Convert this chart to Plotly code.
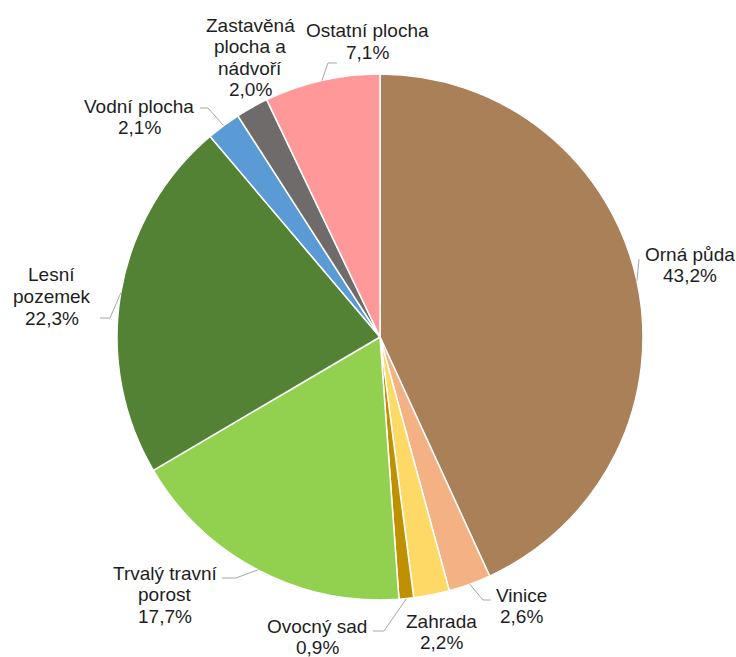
import math
import plotly.graph_objects as go

# ---- data ----
categories = ["Orná půda", "Vinice", "Zahrada", "Ovocný sad", "Trvalý travní porost",
              "Lesní pozemek", "Vodní plocha", "Zastavěná plocha a nádvoří", "Ostatní plocha"]
values = [43.2, 2.6, 2.2, 0.9, 17.7, 22.3, 2.1, 2.0, 7.1]
label_lines = [["Orná půda"], ["Vinice"], ["Zahrada"], ["Ovocný sad"], ["Trvalý travní", "porost"],
               ["Lesní", "pozemek"], ["Vodní plocha"], ["Zastavěná", "plocha a", "nádvoří"], ["Ostatní plocha"]]

# ---- styling / layout ----
colors = ["#A98058", "#F4B183", "#FFD966", "#BF9000", "#92D050",
          "#548235", "#5B9BD5", "#706B6B", "#FF9999"]
W, H = 736, 657
CX, CY, R = 380, 337, 263
LINE_H = 21.5
# label block placement: (center x, first-line center y) in pixels
label_place = [(690, 254), (521, 595), (442, 621), (317, 626), (165, 573),
               (52, 275), (139, 106), (250, 25), (367, 31)]
# leader line extra points (after point on slice edge), in pixels
leader_pts = [[(639, 259)], [(483, 600), (491, 600)], [], [(384, 631), (373, 631)],
              [(236, 578), (222, 578)], [(110, 318), (100, 318)], [(208, 108), (200, 108)],
              [], [(328, 63), (337, 63)]]


def px(x):
    return x / W


def py(y):
    return 1 - y / H


fig = go.Figure(go.Pie(
    labels=categories, values=values, sort=False, direction="clockwise", rotation=0,
    marker=dict(colors=colors, line=dict(color="white", width=1.5)),
    textinfo="none", hoverinfo="label+percent", showlegend=False,
    domain=dict(x=[px(CX - R), px(CX + R)], y=[py(CY + R), py(CY - R)]),
))

annotations = []
shapes = []
total = sum(values)
cum = 0.0
for i, v in enumerate(values):
    mid = (cum + v / 2) / total * 2 * math.pi
    cum += v
    ex = CX + R * math.sin(mid)
    ey = CY - R * math.cos(mid)
    lines = label_lines[i] + [f"{v:.1f}".replace(".", ",") + "%"]
    lx, ly = label_place[i]
    for k, t in enumerate(lines):
        annotations.append(dict(
            x=px(lx), y=py(ly + k * LINE_H), xref="paper", yref="paper",
            text=t, showarrow=False, xanchor="center", yanchor="middle",
            font=dict(family="Liberation Sans, Arial, sans-serif", size=19, color="#1e1e1e"),
        ))
    if leader_pts[i]:
        pts = [(ex, ey)] + leader_pts[i]
        path = "M " + " L ".join(f"{px(a):.5f},{py(b):.5f}" for a, b in pts)
        shapes.append(dict(type="path", path=path, xref="paper", yref="paper",
                           line=dict(color="#A6A6A6", width=1)))

fig.update_layout(
    width=W, height=H, margin=dict(l=0, r=0, t=0, b=0),
    paper_bgcolor="white", plot_bgcolor="white",
    annotations=annotations, shapes=shapes,
)

fig.write_html(
    "out.html",
    config={"displayModeBar": False},
    post_script="document.body.style.margin='0';document.body.style.overflow='hidden';",
)
